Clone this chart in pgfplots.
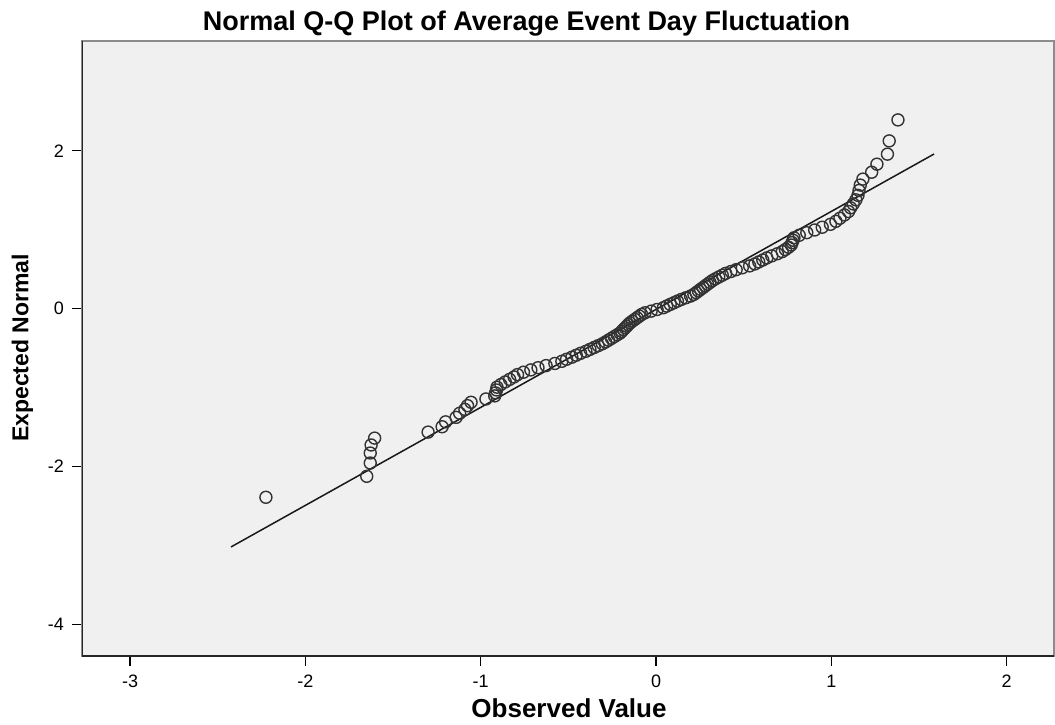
\documentclass[border=0pt]{standalone}
\usepackage{fontspec}
\setmainfont{Liberation Sans}
\usepackage{pgfplots}
\usepackage{pgfplotstable}
\pgfplotsset{compat=1.18}
\definecolor{bg}{HTML}{F0F0F0}
\definecolor{framegray}{HTML}{8C8C8C}
\pgfplotstableread{
x y
-2.225 -2.391
-1.650 -2.125
-1.630 -1.957
-1.630 -1.830
-1.625 -1.728
-1.605 -1.641
-1.300 -1.565
-1.220 -1.497
-1.200 -1.435
-1.140 -1.378
-1.120 -1.326
-1.090 -1.277
-1.075 -1.230
-1.055 -1.187
-0.970 -1.145
-0.920 -1.106
-0.915 -1.068
-0.910 -1.031
-0.907 -0.996
-0.885 -0.962
-0.860 -0.929
-0.835 -0.897
-0.810 -0.866
-0.790 -0.836
-0.756 -0.806
-0.714 -0.777
-0.673 -0.749
-0.627 -0.722
-0.577 -0.695
-0.537 -0.668
-0.510 -0.642
-0.480 -0.616
-0.455 -0.591
-0.430 -0.566
-0.400 -0.541
-0.377 -0.517
-0.353 -0.493
-0.330 -0.470
-0.306 -0.446
-0.288 -0.423
-0.271 -0.400
-0.254 -0.377
-0.238 -0.355
-0.221 -0.332
-0.205 -0.310
-0.195 -0.288
-0.186 -0.266
-0.176 -0.244
-0.167 -0.223
-0.158 -0.202
-0.148 -0.180
-0.135 -0.159
-0.121 -0.137
-0.108 -0.116
-0.095 -0.095
-0.082 -0.074
-0.063 -0.053
-0.028 -0.032
0.006 -0.011
0.042 0.011
0.061 0.032
0.081 0.053
0.102 0.074
0.122 0.095
0.144 0.116
0.170 0.137
0.197 0.159
0.216 0.180
0.229 0.202
0.242 0.223
0.254 0.244
0.268 0.266
0.281 0.288
0.294 0.310
0.308 0.332
0.322 0.355
0.339 0.377
0.358 0.400
0.378 0.423
0.397 0.446
0.427 0.470
0.457 0.493
0.492 0.517
0.534 0.541
0.564 0.566
0.586 0.591
0.609 0.616
0.632 0.642
0.660 0.668
0.692 0.695
0.720 0.722
0.738 0.749
0.756 0.777
0.771 0.806
0.776 0.836
0.782 0.866
0.787 0.897
0.817 0.929
0.860 0.962
0.905 0.996
0.948 1.031
0.995 1.068
1.026 1.106
1.049 1.145
1.075 1.187
1.098 1.230
1.110 1.277
1.125 1.326
1.140 1.378
1.152 1.435
1.158 1.497
1.165 1.565
1.180 1.641
1.230 1.728
1.260 1.830
1.320 1.957
1.330 2.125
1.380 2.391
}\qqdata
\begin{document}
\begin{tikzpicture}
\path[use as bounding box] (0,0) rectangle (527.5pt,362pt);
\begin{axis}[
  at={(41pt,34pt)}, anchor=south west,
  scale only axis, width=486pt, height=307.5pt,
  xmin=-3.274, xmax=2.270, ymin=-4.402, ymax=3.391,
  xtick={-3,-2,-1,0,1,2}, ytick={-4,-2,0,2},
  axis background/.style={fill=bg},
  axis line style={draw=framegray, line width=0.6pt},
  tick align=outside, xtick pos=bottom, ytick pos=left,
  major tick length=5pt,
  tick style={black, line width=0.7pt},
  ticklabel style={font=\fontsize{9}{10}\selectfont, text=black},
  xticklabel style={yshift=-1pt},
  yticklabel style={xshift=-0.5pt},
  /pgf/number format/assume math mode=true,
]
\addplot[black!90, line width=0.75pt] coordinates {(-2.424,-3.02) (1.586,1.959)};
\addplot[only marks, mark=o, mark size=3pt, mark options={line width=0.7pt, draw=black!80}] table[x=x, y=y] {\qqdata};
\draw[black!85, line width=0.9pt] (rel axis cs:0,1) -- (rel axis cs:0,0) -- (rel axis cs:1,0);
\end{axis}
\node[font=\bfseries\fontsize{13.5}{16}\selectfont, anchor=base] at (263.25pt,346.7pt) {Normal Q-Q Plot of Average Event Day Fluctuation};
\node[font=\bfseries\fontsize{13}{15}\selectfont, anchor=base] at (284.5pt,3.5pt) {Observed Value};
\node[font=\bfseries\fontsize{11.5}{14}\selectfont, rotate=90, anchor=center] at (11.25pt,188pt) {Expected Normal};
\end{tikzpicture}
\end{document}
